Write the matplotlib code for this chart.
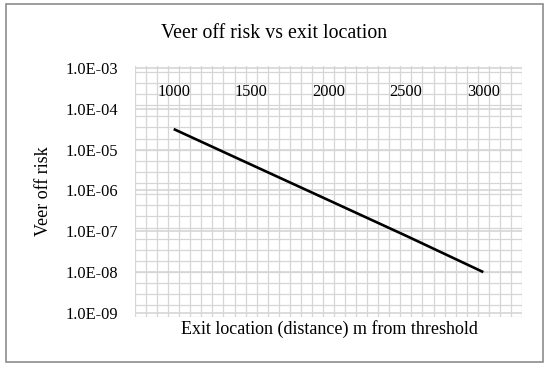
import numpy as np
import matplotlib
matplotlib.use("Agg")
from matplotlib import pyplot as plt
from matplotlib.patches import Rectangle

# Exit locations (category axis) and the veer-off risk
exit_location = ["1000", "1500", "2000", "2500", "3000"]
veer_off_risk = [3.2e-5, 4.3e-6, 5.8e-7, 7.8e-8, 1.0e-8]
risk_ticks = [1e-3, 1e-4, 1e-5, 1e-6, 1e-7, 1e-8, 1e-9]

plt.rcParams['font.family'] = ['Liberation Serif', 'DejaVu Serif']
grid_col = '#d6d6d6'

fig = plt.figure(figsize=(5.5, 3.68), dpi=100)
ax = fig.add_axes([135/550, 1 - 317/368, 387/550, 251/368])

n = len(exit_location)
xs = np.arange(n)
ax.set_xlim(-0.5, n - 0.5)
ax.set_yscale('log')
ax.set_ylim(10**-9.1, 10**-2.95)

# graph-paper fill of the plot area
for k in range(7*n + 1):
    ax.axvline(-0.5 + k/7, color=grid_col, lw=0.9, zorder=0)
for k in range(-15, 8):
    ax.axhline(10**(-5 + k*3/11), color=grid_col, lw=0.9, zorder=0)
# decade gridlines
for t in risk_ticks:
    ax.axhline(t, color=grid_col, lw=1.2, zorder=0)

ax.plot(xs, veer_off_risk, color='black', lw=1.9, solid_capstyle='butt', zorder=3)

for s in ax.spines.values():
    s.set_visible(False)
ax.set_xticks([])
ax.set_yticks(risk_ticks)
ax.set_yticklabels(["%.1E" % t for t in risk_ticks])
ax.yaxis.set_minor_locator(matplotlib.ticker.NullLocator())
ax.tick_params(axis='y', length=0, pad=12, labelsize=11.8)

# category labels sit inside the plot, just above the 1E-04 line
for x, lab in zip(xs, exit_location):
    ax.text(x, 10**-3.59, lab, ha='center', va='center', fontsize=11.8, zorder=4)

ax.set_ylabel("Veer off risk", fontsize=13, labelpad=10)
fig.text(329/550, 1 - 329/368, "Exit location (distance) m from threshold",
         ha='center', va='center', fontsize=13)
fig.text(274/550, 1 - 33/368, "Veer off risk vs exit location",
         ha='center', va='center', fontsize=14.3)

fig.patches.append(Rectangle((6/550, 1 - 362/368), 537/550, 358/368,
                             transform=fig.transFigure, fill=False,
                             edgecolor='#8c8c8c', lw=1.2))

fig.savefig("out.png", dpi=100)
